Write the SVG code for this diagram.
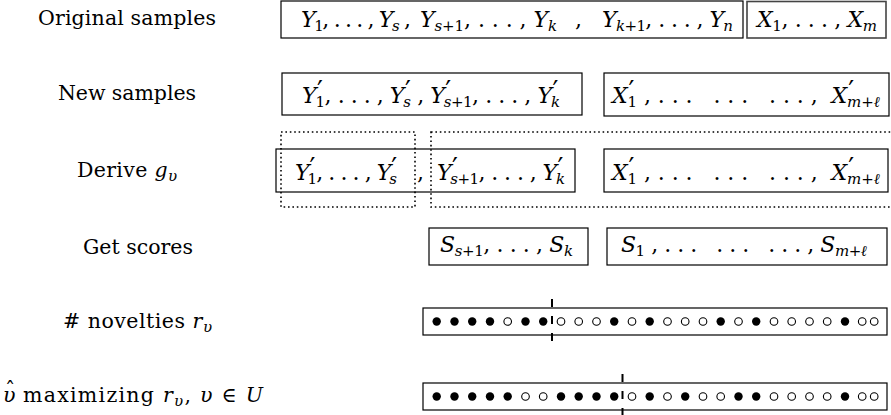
<svg xmlns="http://www.w3.org/2000/svg" width="891" height="415" viewBox="0 0 891 415" font-family="DejaVu Serif, serif">
<style>
.box{fill:none;stroke:#000;stroke-width:1.2}
.gbox{fill:none;stroke:#444;stroke-width:1.6}
.dot{fill:none;stroke:#000;stroke-width:1.6;stroke-dasharray:1.6 2.8}
.m{font-size:22px;fill:#000}
.lbl{font-size:20.5px;fill:#000}
.i{font-style:italic}
.sb{font-size:15px}
.sp{font-size:26px}
.tick{stroke:#000;stroke-width:2;stroke-dasharray:8 9}
.f{fill:#000}
.o{fill:#fff;stroke:#000;stroke-width:1.1}
</style>
<rect width="891" height="415" fill="#fff"/>

<g id="labels" font-family="DejaVu Serif, serif">
<text class="lbl" x="38" y="25" textLength="178" lengthAdjust="spacing">Original samples</text>
<text class="lbl" x="58" y="100" textLength="138" lengthAdjust="spacing">New samples</text>
<text class="lbl" x="77" y="177" textLength="100" lengthAdjust="spacing">Derive <tspan class="i">g</tspan><tspan class="sb i" dy="4">υ</tspan></text>
<text class="lbl" x="83" y="254" textLength="110" lengthAdjust="spacing">Get scores</text>
<text class="lbl" x="63" y="328" textLength="149" lengthAdjust="spacing"># novelties <tspan class="i">r</tspan><tspan class="sb i" dy="4">υ</tspan></text>
<text class="lbl i" x="3" y="402">υ</text>
<text class="lbl" x="5" y="397" font-size="16">ˆ</text>
<text class="lbl" x="23" y="402" textLength="240" lengthAdjust="spacing">maximizing <tspan class="i">r</tspan><tspan class="sb i" dy="4">υ</tspan><tspan dy="-4">, </tspan><tspan class="i">υ</tspan> ∈ <tspan class="i">U</tspan></text>
</g>

<g id="row-original" font-family="DejaVu Serif, serif">
<rect class="box" x="281" y="1" width="462" height="37"/>
<rect class="gbox" x="747" y="1.5" width="139" height="36.5"/>
<text class="m" x="301" y="27" textLength="110" lengthAdjust="spacing"><tspan class="i">Y</tspan><tspan class="sb" dy="4">1</tspan><tspan dy="-4">, . . . , </tspan><tspan class="i">Y</tspan><tspan class="sb i" dy="4">s</tspan><tspan dy="-4"> ,</tspan></text>
<text class="m" x="420" y="27" textLength="137" lengthAdjust="spacing"><tspan class="i">Y</tspan><tspan class="sb" dy="4"><tspan class="i">s</tspan>+1</tspan><tspan dy="-4">, . . . , </tspan><tspan class="i">Y</tspan><tspan class="sb i" dy="4">k</tspan></text>
<text class="m" x="575" y="27">,</text>
<text class="m" x="602" y="27" textLength="131" lengthAdjust="spacing"><tspan class="i">Y</tspan><tspan class="sb" dy="4"><tspan class="i">k</tspan>+1</tspan><tspan dy="-4">, . . . , </tspan><tspan class="i">Y</tspan><tspan class="sb i" dy="4">n</tspan></text>
<text class="m" x="757" y="27" textLength="120" lengthAdjust="spacing"><tspan class="i">X</tspan><tspan class="sb" dy="4">1</tspan><tspan dy="-4">, . . . , </tspan><tspan class="i">X</tspan><tspan class="sb i" dy="4">m</tspan></text>
</g>

<g id="row-new" font-family="DejaVu Serif, serif">
<rect class="box" x="282" y="73" width="300" height="42"/>
<rect class="box" x="604" y="73" width="285" height="43"/>
<text class="m" x="302" y="103" textLength="258" lengthAdjust="spacing"><tspan class="i">Y</tspan><tspan class="sp" dx="1" dy="-4">′</tspan><tspan class="sb" dx="-7" dy="8">1</tspan><tspan dy="-4">, . . . , </tspan><tspan class="i">Y</tspan><tspan class="sp" dx="1" dy="-4">′</tspan><tspan class="sb i" dx="-7" dy="8">s</tspan><tspan dy="-4"> , </tspan><tspan class="i">Y</tspan><tspan class="sp" dx="1" dy="-4">′</tspan><tspan class="sb" dx="-7" dy="8"><tspan class="i">s</tspan>+1</tspan><tspan dy="-4">, . . . , </tspan><tspan class="i">Y</tspan><tspan class="sp" dx="1" dy="-4">′</tspan><tspan class="sb i" dx="-7" dy="8">k</tspan></text>
<text class="m" x="612" y="103" textLength="268" lengthAdjust="spacing" xml:space="preserve"><tspan class="i">X</tspan><tspan class="sp" dx="1" dy="-4">′</tspan><tspan class="sb" dx="-7" dy="8">1</tspan><tspan dy="-4"> , . . .   . . .   . . . ,  </tspan><tspan class="i">X</tspan><tspan class="sp" dx="1" dy="-4">′</tspan><tspan class="sb" dx="-7" dy="8"><tspan class="i">m</tspan>+<tspan class="i">ℓ</tspan></tspan></text>
</g>

<g id="row-derive" font-family="DejaVu Serif, serif">
<rect class="box" x="276" y="149" width="299" height="43"/>
<rect class="dot" x="281" y="132" width="134" height="75"/>
<rect class="dot" x="431" y="132" width="480" height="75"/>
<rect class="box" x="604" y="149" width="284" height="43"/>
<text class="m" x="295" y="180" textLength="102" lengthAdjust="spacing"><tspan class="i">Y</tspan><tspan class="sp" dx="1" dy="-4">′</tspan><tspan class="sb" dx="-7" dy="8">1</tspan><tspan dy="-4">, . . . , </tspan><tspan class="i">Y</tspan><tspan class="sp" dx="1" dy="-4">′</tspan><tspan class="sb i" dx="-7" dy="8">s</tspan></text>
<text class="m" x="417" y="180">,</text>
<text class="m" x="437" y="180" textLength="128" lengthAdjust="spacing"><tspan class="i">Y</tspan><tspan class="sp" dx="1" dy="-4">′</tspan><tspan class="sb" dx="-7" dy="8"><tspan class="i">s</tspan>+1</tspan><tspan dy="-4">, . . . , </tspan><tspan class="i">Y</tspan><tspan class="sp" dx="1" dy="-4">′</tspan><tspan class="sb i" dx="-7" dy="8">k</tspan></text>
<text class="m" x="612" y="180" textLength="268" lengthAdjust="spacing" xml:space="preserve"><tspan class="i">X</tspan><tspan class="sp" dx="1" dy="-4">′</tspan><tspan class="sb" dx="-7" dy="8">1</tspan><tspan dy="-4"> , . . .   . . .   . . . ,  </tspan><tspan class="i">X</tspan><tspan class="sp" dx="1" dy="-4">′</tspan><tspan class="sb" dx="-7" dy="8"><tspan class="i">m</tspan>+<tspan class="i">ℓ</tspan></tspan></text>
</g>

<g id="row-scores" font-family="DejaVu Serif, serif">
<rect class="box" x="429" y="228" width="159" height="37"/>
<rect class="box" x="607" y="228" width="280" height="37"/>
<text class="m" x="440" y="252" textLength="133" lengthAdjust="spacing"><tspan class="i">S</tspan><tspan class="sb" dy="4"><tspan class="i">s</tspan>+1</tspan><tspan dy="-4">, . . . , </tspan><tspan class="i">S</tspan><tspan class="sb i" dy="4">k</tspan></text>
<text class="m" x="621" y="252" textLength="246" lengthAdjust="spacing" xml:space="preserve"><tspan class="i">S</tspan><tspan class="sb" dy="4">1</tspan><tspan dy="-4"> , . . .   . . .   . . . , </tspan><tspan class="i">S</tspan><tspan class="sb" dy="4"><tspan class="i">m</tspan>+<tspan class="i">ℓ</tspan></tspan></text>
</g>

<g id="row-novelties">
<rect class="box" x="423" y="308" width="464" height="27"/>
<g transform="translate(0,321.5)">
<circle class="f" cx="436.7" cy="0" r="4.2"/>
<circle class="f" cx="454.5" cy="0" r="4.2"/>
<circle class="f" cx="472.2" cy="0" r="4.2"/>
<circle class="f" cx="490.0" cy="0" r="4.2"/>
<circle class="o" cx="507.7" cy="0" r="3.8"/>
<circle class="f" cx="525.5" cy="0" r="4.2"/>
<circle class="f" cx="543.2" cy="0" r="4.2"/>
<circle class="o" cx="561.0" cy="0" r="3.8"/>
<circle class="o" cx="578.7" cy="0" r="3.8"/>
<circle class="o" cx="596.5" cy="0" r="3.8"/>
<circle class="f" cx="614.2" cy="0" r="4.2"/>
<circle class="o" cx="632.0" cy="0" r="3.8"/>
<circle class="f" cx="649.7" cy="0" r="4.2"/>
<circle class="o" cx="667.5" cy="0" r="3.8"/>
<circle class="o" cx="685.2" cy="0" r="3.8"/>
<circle class="o" cx="703.0" cy="0" r="3.8"/>
<circle class="f" cx="720.7" cy="0" r="4.2"/>
<circle class="o" cx="738.5" cy="0" r="3.8"/>
<circle class="f" cx="756.2" cy="0" r="4.2"/>
<circle class="o" cx="774.0" cy="0" r="3.8"/>
<circle class="o" cx="791.7" cy="0" r="3.8"/>
<circle class="o" cx="809.5" cy="0" r="3.8"/>
<circle class="o" cx="827.2" cy="0" r="3.8"/>
<circle class="f" cx="845.0" cy="0" r="4.2"/>
<circle class="o" cx="862.2" cy="0" r="3.8"/>
<circle class="o" cx="874.2" cy="0" r="3.8"/>
</g>
</g>

<g id="row-maximizing">
<rect class="box" x="423" y="383" width="464" height="27"/>
<g transform="translate(0,396.5)">
<circle class="f" cx="436.7" cy="0" r="4.2"/>
<circle class="f" cx="454.5" cy="0" r="4.2"/>
<circle class="f" cx="472.2" cy="0" r="4.2"/>
<circle class="f" cx="490.0" cy="0" r="4.2"/>
<circle class="f" cx="507.7" cy="0" r="4.2"/>
<circle class="o" cx="525.5" cy="0" r="3.8"/>
<circle class="o" cx="543.2" cy="0" r="3.8"/>
<circle class="f" cx="561.0" cy="0" r="4.2"/>
<circle class="f" cx="578.7" cy="0" r="4.2"/>
<circle class="f" cx="596.5" cy="0" r="4.2"/>
<circle class="f" cx="614.2" cy="0" r="4.2"/>
<circle class="o" cx="632.0" cy="0" r="3.8"/>
<circle class="f" cx="649.7" cy="0" r="4.2"/>
<circle class="o" cx="667.5" cy="0" r="3.8"/>
<circle class="f" cx="685.2" cy="0" r="4.2"/>
<circle class="o" cx="703.0" cy="0" r="3.8"/>
<circle class="o" cx="720.7" cy="0" r="3.8"/>
<circle class="f" cx="738.5" cy="0" r="4.2"/>
<circle class="f" cx="756.2" cy="0" r="4.2"/>
<circle class="o" cx="774.0" cy="0" r="3.8"/>
<circle class="o" cx="791.7" cy="0" r="3.8"/>
<circle class="o" cx="809.5" cy="0" r="3.8"/>
<circle class="o" cx="827.2" cy="0" r="3.8"/>
<circle class="f" cx="845.0" cy="0" r="4.2"/>
<circle class="o" cx="862.2" cy="0" r="3.8"/>
<circle class="o" cx="874.2" cy="0" r="3.8"/>
</g>
</g>

<g id="connectors">
<line class="tick" x1="552" y1="299" x2="552" y2="341"/>
<line class="tick" x1="622.5" y1="374" x2="622.5" y2="416"/>
</g>
</svg>
